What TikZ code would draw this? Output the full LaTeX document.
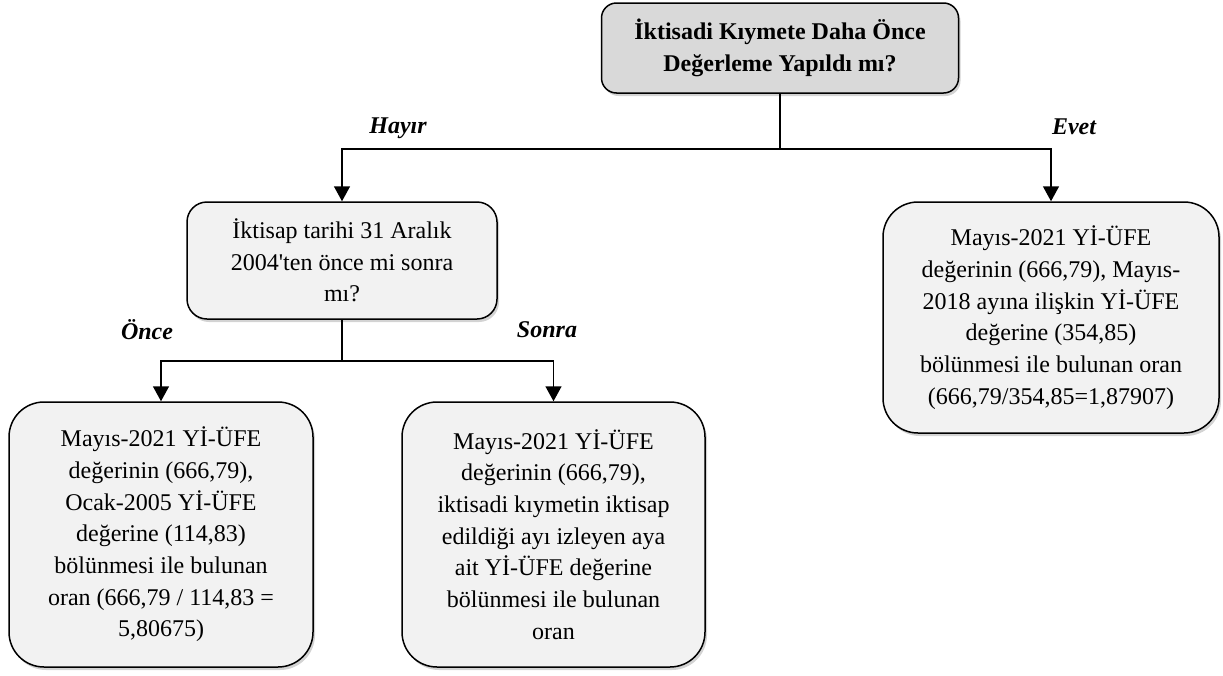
\documentclass[tikz,border=0pt]{standalone}
\usepackage{fontspec}
\setmainfont{Liberation Serif}[Ligatures=TeXOff]
\usetikzlibrary{arrows.meta, positioning, shadows}
\tikzset{
    >={Triangle[width=16pt,length=15pt]},
    every node/.style={font=\fontsize{24}{31.7}\selectfont},
    box/.style={draw, line width=1.5pt, align=center, inner sep=0pt, fill=gray!10,
        drop shadow={shadow xshift=2pt, shadow yshift=-3pt, opacity=0.35}},
    question/.style={box, fill=gray!30, rounded corners=15pt,
        font=\bfseries\fontsize{24}{31.7}\selectfont},
    answer/.style={font=\bfseries\itshape\fontsize{24}{29}\selectfont},
    link/.style={->, line width=1.5pt},
}

\begin{document}
\begin{tikzpicture}[x=1pt, y=-1pt]
    \useasboundingbox (0,0) rectangle (1223,675);

    \node[question, minimum width=357pt, minimum height=90pt] (deger) at (780,48)
        {İktisadi Kıymete Daha Önce\\Değerleme Yapıldı mı?};
    \node[box, rounded corners=20pt, minimum width=310pt, minimum height=117pt] (tarih) at (342,260.5)
        {İktisap tarihi 31 Aralık\\2004'ten önce mi sonra\\mı?};
    \node[box, rounded corners=35pt, minimum width=336pt, minimum height=231pt] (evet) at (1051,317.5)
        {Mayıs-2021 Yİ-ÜFE\\değerinin (666,79), Mayıs-\\2018 ayına ilişkin Yİ-ÜFE\\değerine (354,85)\\bölünmesi ile bulunan oran\\(666,79/354,85=1,87907)};
    \node[box, rounded corners=35pt, minimum width=304pt, minimum height=265pt] (once) at (161,534.5)
        {Mayıs-2021 Yİ-ÜFE\\değerinin (666,79),\\Ocak-2005 Yİ-ÜFE\\değerine (114,83)\\bölünmesi ile bulunan\\oran (666,79 / 114,83 =\\5,80675)};
    \node[box, rounded corners=35pt, minimum width=303pt, minimum height=265pt] (sonra) at (553.5,534.5)
        {Mayıs-2021 Yİ-ÜFE\\değerinin (666,79),\\iktisadi kıymetin iktisap\\edildiği ayı izleyen aya\\ait Yİ-ÜFE değerine\\bölünmesi ile bulunan\\oran};

    % branch points
    \coordinate (split1) at (780,149);
    \coordinate (split2) at (342,361);

    \draw[line width=1.5pt] (deger.south) -- (split1);
    \draw[link] (split1) -| (tarih.north);
    \draw[link] (split1) -| (evet.north);
    \draw[line width=1.5pt] (tarih.south) -- (split2);
    \draw[link] (split2) -| (once.north);
    \draw[link] (split2) -| (sonra.north);

    \node[answer] (hayir) at (398,128) {Hayır};
    \node[answer] (evetlbl) at (1074,127) {Evet};
    \node[answer] (oncelbl) at (147,330) {Önce};
    \node[answer] (sonralbl) at (547,330) {Sonra};
\end{tikzpicture}
\end{document}
